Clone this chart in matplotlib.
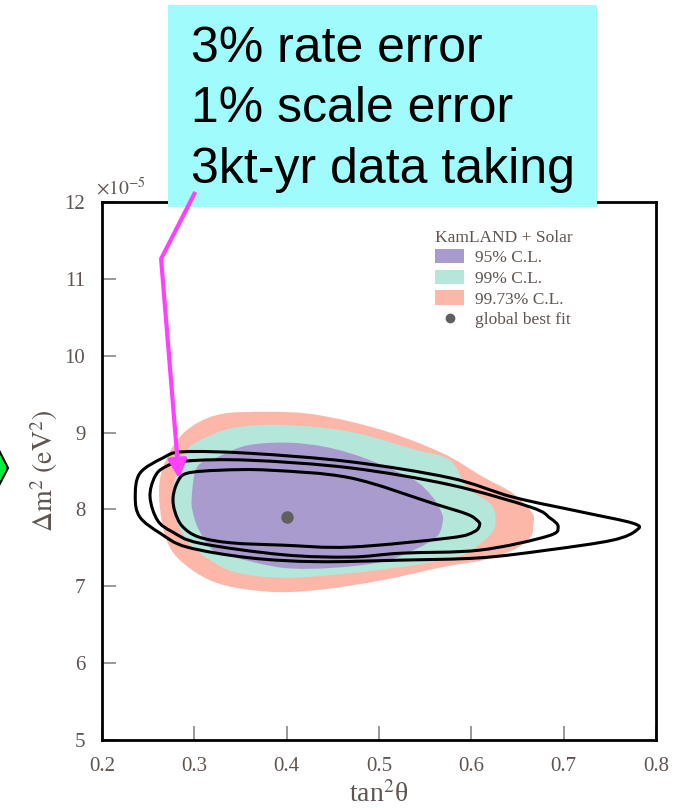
import matplotlib
matplotlib.use("Agg")
import numpy as np
import matplotlib.pyplot as plt
from matplotlib.patches import Polygon, Rectangle, Patch, PathPatch
from matplotlib.path import Path
from matplotlib.lines import Line2D

plt.rcParams['font.family'] = ['Liberation Serif', 'DejaVu Serif']
plt.rcParams['mathtext.fontset'] = 'stix'

# allowed regions (KamLAND + Solar), boundary
cl9973_x = [0.262, 0.266, 0.288, 0.325, 0.379, 0.433, 0.504, 0.569, 0.613, 0.645, 0.666,
            0.667, 0.664, 0.645, 0.613, 0.569, 0.504, 0.433, 0.379, 0.325, 0.288, 0.270]
cl9973_y = [8.12, 8.55, 8.99, 9.23, 9.27, 9.23, 9.03, 8.73, 8.42, 8.21, 7.95,
            7.80, 7.64, 7.47, 7.34, 7.25, 7.08, 6.95, 6.93, 7.04, 7.30, 7.60]

cl99_x = [0.277, 0.281, 0.292, 0.306, 0.342, 0.396, 0.469, 0.541, 0.577, 0.595, 0.620, 0.626,
          0.622, 0.595, 0.577, 0.541, 0.469, 0.396, 0.342, 0.306, 0.292, 0.281]
cl99_y = [8.12, 8.51, 8.77, 8.90, 9.06, 9.10, 9.01, 8.77, 8.64, 8.29, 8.08, 7.90,
          7.69, 7.43, 7.37, 7.28, 7.17, 7.11, 7.19, 7.43, 7.60, 7.84]

cl95_x = [0.297, 0.303, 0.325, 0.360, 0.414, 0.469, 0.534, 0.558, 0.568, 0.569,
          0.563, 0.541, 0.504, 0.450, 0.396, 0.342, 0.320, 0.306, 0.300]
cl95_y = [8.12, 8.55, 8.68, 8.84, 8.86, 8.73, 8.41, 8.16, 7.95, 7.84,
          7.65, 7.49, 7.32, 7.24, 7.24, 7.38, 7.47, 7.71, 7.89]

best_fit = (0.400, 7.90)

# projected contours (3% rate, 1% scale, 3 kt-yr)
inner_x = [0.277, 0.282, 0.292, 0.328, 0.382, 0.469, 0.558, 0.595, 0.606, 0.609, 0.603,
           0.577, 0.469, 0.396, 0.340, 0.305, 0.287, 0.279]
inner_y = [8.16, 8.36, 8.47, 8.51, 8.51, 8.41, 8.08, 7.94, 7.86, 7.80, 7.71,
           7.63, 7.51, 7.535, 7.565, 7.64, 7.78, 7.97]

middle_x = [0.252, 0.257, 0.268, 0.292, 0.360, 0.469, 0.577, 0.664, 0.685, 0.694, 0.682,
            0.609, 0.523, 0.469, 0.396, 0.306, 0.276, 0.260]
middle_y = [8.16, 8.42, 8.55, 8.63, 8.64, 8.54, 8.32, 8.03, 7.89, 7.77, 7.65,
            7.47, 7.43, 7.38, 7.41, 7.56, 7.71, 7.86]

outer_x = [0.236, 0.241, 0.266, 0.288, 0.360, 0.469, 0.577, 0.645, 0.718, 0.775, 0.779,
           0.753, 0.682, 0.609, 0.523, 0.433, 0.360, 0.292, 0.263, 0.241]
outer_y = [8.16, 8.47, 8.67, 8.75, 8.73, 8.62, 8.41, 8.16, 7.97, 7.82, 7.73,
           7.60, 7.47, 7.37, 7.34, 7.32, 7.37, 7.51, 7.69, 7.90]

x_ticks = [0.2, 0.3, 0.4, 0.5, 0.6, 0.7, 0.8]
y_ticks = [5, 6, 7, 8, 9, 10, 11, 12]
legend_labels = ['95% C.L.', '99% C.L.', '99.73% C.L.', 'global best fit']
box_lines = ['3% rate error', '1% scale error', '3kt-yr data taking']

c95 = '#aa9bce'
c99 = '#b4e6da'
c9973 = '#fdb7a8'
txt_col = '#5e5550'


def smooth_path(xs, ys):
    # closed curve through the points, drawn as cubic bezier segments
    p = np.column_stack([xs, ys])
    n = len(p)
    verts = [p[0]]
    codes = [Path.MOVETO]
    for i in range(n):
        p0, p1, p2, p3 = p[i - 1], p[i], p[(i + 1) % n], p[(i + 2) % n]
        verts += [p1 + (p2 - p0) / 6, p2 - (p3 - p1) / 6, p2]
        codes += [Path.CURVE4] * 3
    return Path(verts, codes)


fig = plt.figure(figsize=(6.86, 8.08), dpi=100)
ax = fig.add_axes([0.1487, 0.0842, 0.8076, 0.6658])

for xs, ys, col, z in [(cl9973_x, cl9973_y, c9973, 1), (cl99_x, cl99_y, c99, 1.1),
                       (cl95_x, cl95_y, c95, 1.2)]:
    ax.add_patch(PathPatch(smooth_path(xs, ys), facecolor=col, lw=0, zorder=z))
ax.plot(*best_fit, 'o', color='#606060', ms=8, zorder=3)

for xs, ys in [(inner_x, inner_y), (middle_x, middle_y), (outer_x, outer_y)]:
    ax.add_patch(PathPatch(smooth_path(xs, ys), fill=False, edgecolor='black',
                           lw=2.2, joinstyle='round', zorder=2))

ax.set_xlim(0.2, 0.8)
ax.set_ylim(5, 12)
ax.set_xticks(x_ticks)
ax.set_yticks(y_ticks)
ax.set_xticklabels([f'{v:.1f}' for v in x_ticks])
ax.set_yticklabels([str(v) for v in y_ticks])
ax.tick_params(direction='in', length=10, width=1.2, color='#888888',
               labelsize=15, labelcolor=txt_col, pad=12)
for s in ax.spines.values():
    s.set_linewidth(2)
ax.set_xlabel('tan$^2$θ', fontsize=20, color=txt_col, labelpad=4)
ax.set_ylabel(r'$\Delta\mathrm{m}^2\ (\mathrm{eV}^2)$', fontsize=20, color=txt_col, labelpad=3)
ax.text(-0.01, 1.005, r'$\times10^{-5}$', transform=ax.transAxes, fontsize=14,
        color=txt_col, ha='left', va='bottom')

handles = [Patch(facecolor=c95), Patch(facecolor=c99), Patch(facecolor=c9973),
           Line2D([], [], marker='o', ls='none', color='#606060', ms=6)]
leg = ax.legend(handles, legend_labels, title='KamLAND + Solar', loc='upper left',
                bbox_to_anchor=(0.585, 0.965), frameon=False, fontsize=12.5,
                title_fontsize=12.5, labelspacing=0.2, handlelength=1.7,
                handleheight=0.9, handletextpad=0.6, alignment='left', borderpad=0)
for t in leg.get_texts():
    t.set_color(txt_col)
leg.get_title().set_color(txt_col)

# annotation box on top
ax.add_patch(Rectangle((0.245, 0.7438), 0.625, 0.25, transform=fig.transFigure,
                       facecolor='#a0fcfc', edgecolor='none', clip_on=False, zorder=5))
for i, line in enumerate(box_lines):
    ax.text(0.278, 0.923 - i * 0.0745, line, transform=fig.transFigure,
            fontsize=36, family='Liberation Sans', color='black', va='baseline',
            ha='left', zorder=6, clip_on=False)

# magenta arrow
ax.plot([0.301, 0.264], [12.13, 11.26], color='#ff40ff', lw=3, clip_on=False,
        zorder=7, solid_capstyle='butt')
ax.annotate('', xy=(0.2834, 8.40), xytext=(0.264, 11.26),
            arrowprops=dict(arrowstyle='-|>,head_length=1.1,head_width=0.55',
                            color='#ff40ff', lw=3, shrinkA=0, shrinkB=0),
            annotation_clip=False, zorder=7)

# green shape cut off at the left edge
fig.add_artist(Polygon([(-0.02, 0.474), (0.0117, 0.4208), (-0.02, 0.3688)],
                       closed=True, facecolor='#00f040', edgecolor='black', lw=1.5,
                       transform=fig.transFigure))

fig.savefig('out.png', dpi=100)
